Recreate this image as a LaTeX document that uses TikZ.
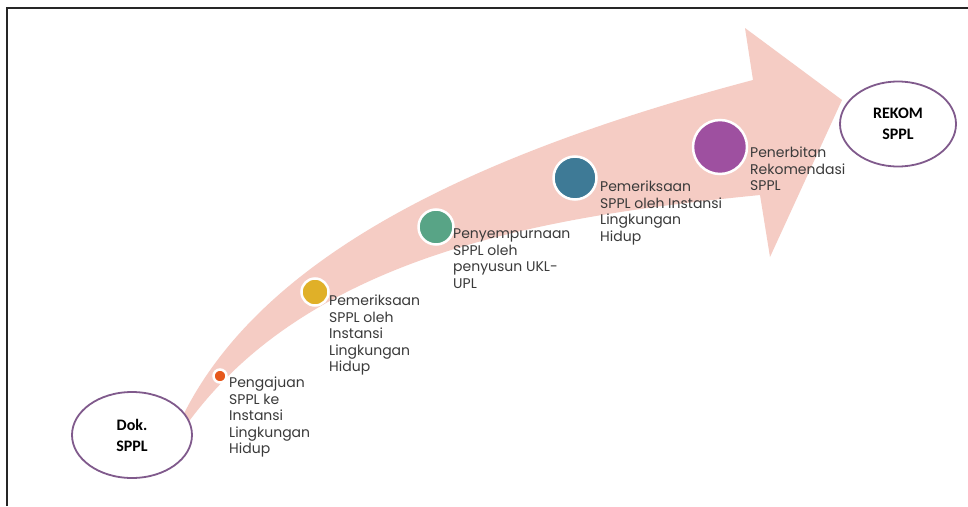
\documentclass[tikz,border=0pt]{standalone}
\usepackage{fontspec}
\setmainfont{Poppins}
\newfontfamily\calib{Carlito}
\usetikzlibrary{shapes.geometric}
\definecolor{bandpink}{RGB}{245,204,196}
\definecolor{txtgray}{RGB}{58,58,58}
\definecolor{ellpurple}{RGB}{128,90,140}
\definecolor{corange}{RGB}{230,88,28}
\definecolor{cyellow}{RGB}{224,176,40}
\definecolor{cgreen}{RGB}{88,164,134}
\definecolor{cblue}{RGB}{62,122,150}
\definecolor{cpurple}{RGB}{158,80,160}
\tikzset{
  lbl/.style={anchor=north west, inner sep=0pt, align=left, text=txtgray,
    font=\fontsize{14}{16.5}\selectfont},
  dot/.style={circle, draw=white, line width=2.5pt, inner sep=0pt},
  ell/.style={ellipse, draw=ellpurple, line width=1.8pt, fill=white, inner sep=0pt,
    align=center, font=\calib\bfseries\fontsize{16}{21}\selectfont, text=black},
  frame/.style={draw=black!85, line width=1.3pt}
}
\begin{document}
\begin{tikzpicture}[x=1pt,y=-1pt]
\useasboundingbox (0,0) rectangle (968,506);
\fill[white] (0,0) rectangle (968,506);
\draw[frame] (7,506) -- (7,8) -- (968,8);
% curved arrow band
\fill[bandpink] (172,440)
  .. controls (240,270) and (450,160) .. (753,80)
  -- (745,28) -- (842,100) -- (770,257) -- (760,195)
  .. controls (560,215) and (300,250) .. (176,440)
  -- cycle;
% ellipses
\node[ell, minimum width=120pt, minimum height=86pt] (dok) at (132,435) {Dok.\\SPPL};
\node[ell, minimum width=116pt, minimum height=85pt] (rekom) at (898,124) {REKOM\\SPPL};
% step dots
\node[dot, fill=corange, minimum size=13pt] (c1) at (220,376) {};
\node[dot, fill=cyellow, minimum size=27pt] (c2) at (315,292) {};
\node[dot, fill=cgreen, minimum size=35pt] (c3) at (436,227) {};
\node[dot, fill=cblue, minimum size=43pt] (c4) at (575,178) {};
\node[dot, fill=cpurple, minimum size=54pt] (c5) at (720,147) {};
% step labels
\node[lbl] (t1) at (229,377) {Pengajuan\\SPPL ke\\Instansi\\Lingkungan\\Hidup};
\node[lbl] (t2) at (329,295) {Pemeriksaan\\SPPL oleh\\Instansi\\Lingkungan\\Hidup};
\node[lbl] (t3) at (453,229) {Penyempurnaan\\SPPL oleh\\penyusun UKL-\\UPL};
\node[lbl] (t4) at (600,181) {Pemeriksaan\\SPPL oleh Instansi\\Lingkungan\\Hidup};
\node[lbl] (t5) at (750,147) {Penerbitan\\Rekomendasi\\SPPL};
\end{tikzpicture}
\end{document}
